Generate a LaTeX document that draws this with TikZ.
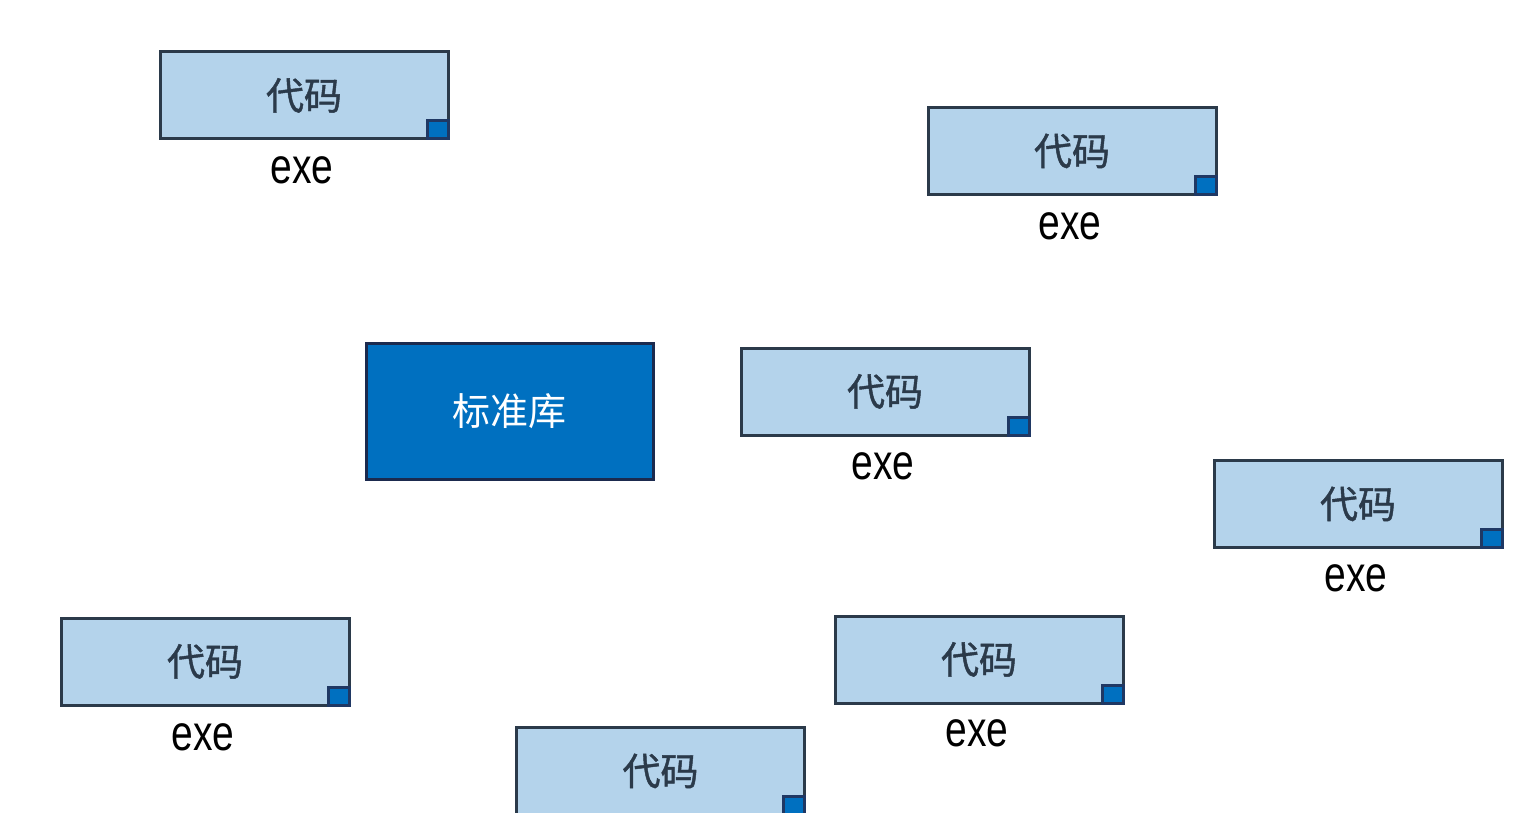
\documentclass[tikz,border=0pt]{standalone}
\usepackage{fontspec}
\newfontfamily\cjk{Noto Sans CJK SC}
\newfontfamily\cjkb[FakeBold=1.2]{Noto Sans CJK SC}
\newfontfamily\exefont[FakeStretch=0.78]{Liberation Sans}
\definecolor{boxfill}{HTML}{B4D3EB}
\definecolor{boxline}{HTML}{2B3A4A}
\definecolor{libfill}{HTML}{0070C0}
\definecolor{libline}{HTML}{1B2A4E}
\definecolor{sqline}{HTML}{1F3864}
\tikzset{
  codebox/.style={draw=boxline, fill=boxfill, line width=3pt, minimum width=288pt, minimum height=87pt, inner sep=0pt, text=boxline, font=\cjkb\fontsize{38}{40}\selectfont},
  libbox/.style={draw=libline, fill=libfill, line width=3pt, minimum width=287pt, minimum height=136pt, inner sep=0pt, text=white, font=\cjk\fontsize{38}{40}\selectfont},
  corner/.style={draw=sqline, fill=libfill, line width=3pt, minimum width=21pt, minimum height=18pt, inner sep=0pt, anchor=south east},
  exelabel/.style={font=\exefont\fontsize{50}{54}\selectfont, text=black, inner sep=0pt}
}
\begin{document}
\begin{tikzpicture}[x=1pt,y=-1pt]
\useasboundingbox[fill=white] (0,0) rectangle (1515,813);
\begin{scope}
\clip (0,0) rectangle (1515,813);
% code boxes
\node[codebox] (c1) at (304,95.5) {代码};
\node[corner] (s1) at (c1.south east) {};
\node[exelabel] (e1) at (302,170) {exe};

\node[codebox] (c2) at (1072,151) {代码};
\node[corner] (s2) at (c2.south east) {};
\node[exelabel] (e2) at (1070,226) {exe};

\node[codebox] (c3) at (885,391.5) {代码};
\node[corner] (s3) at (c3.south east) {};
\node[exelabel] (e3) at (883,466) {exe};

\node[codebox] (c4) at (1358,504) {代码};
\node[corner] (s4) at (c4.south east) {};
\node[exelabel] (e4) at (1356,578) {exe};

\node[codebox] (c5) at (205,661.5) {代码};
\node[corner] (s5) at (c5.south east) {};
\node[exelabel] (e5) at (203,737) {exe};

\node[codebox] (c6) at (979,659.5) {代码};
\node[corner] (s6) at (c6.south east) {};
\node[exelabel] (e6) at (977,733) {exe};

\node[codebox] (c7) at (660.5,771) {代码};
\node[corner] (s7) at (c7.south east) {};

% standard library
\node[libbox] (lib) at (509.5,411) {标准库};
\end{scope}
\end{tikzpicture}
\end{document}
